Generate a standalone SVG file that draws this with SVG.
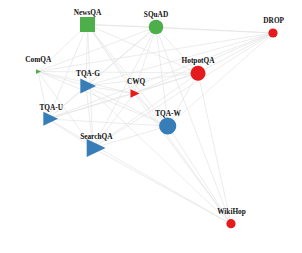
<svg xmlns="http://www.w3.org/2000/svg" width="302" height="253" viewBox="0 0 302 253">
<style>
.e{stroke:#e4e4e4;stroke-width:0.7;fill:none}
.l{font-family:"Liberation Serif","Times New Roman",serif;font-weight:bold;font-size:7.3px;fill:#111;text-anchor:middle}
.g{fill:#4daf4a}.b{fill:#377eb8}.r{fill:#e41a1c}
</style>
<rect width="302" height="253" fill="#fff"/>
<g id="edges">
<path class="e" d="M38,71.5L87.5,24.5M38,71.5L156,27M38,71.5L273,33M38,71.5L198,73M38,71.5L86,86M38,71.5L134,93.5M38,71.5L48,119M38,71.5L93,148M38,71.5L168,126"/>
<path class="e" d="M87.5,24.5L156,27M87.5,24.5L273,33M87.5,24.5L198,73M87.5,24.5L86,86M87.5,24.5L134,93.5M87.5,24.5L48,119M87.5,24.5L93,148M87.5,24.5L168,126M87.5,24.5L231,224"/>
<path class="e" d="M156,27L273,33M156,27L198,73M156,27L86,86M156,27L134,93.5M156,27L48,119M156,27L93,148M156,27L168,126M156,27L231,224"/>
<path class="e" d="M273,33L198,73M273,33L86,86M273,33L134,93.5M273,33L48,119M273,33L93,148M273,33L168,126"/>
<path class="e" d="M198,73L86,86M198,73L134,93.5M198,73L48,119M198,73L93,148M198,73L168,126M198,73L231,224"/>
<path class="e" d="M86,86L134,93.5M86,86L48,119M86,86L93,148M86,86L168,126M86,86L231,224"/>
<path class="e" d="M134,93.5L48,119M134,93.5L93,148M134,93.5L168,126M134,93.5L231,224"/>
<path class="e" d="M48,119L93,148M48,119L168,126M48,119L231,224"/>
<path class="e" d="M93,148L168,126M93,148L231,224"/>
<path class="e" d="M168,126L231,224"/>
</g>
<g id="NewsQA"><rect class="g" x="80" y="17" width="15" height="15"/><text class="l" x="87.5" y="15">NewsQA</text></g>
<g id="SQuAD"><circle class="g" cx="156" cy="27" r="7.3"/><text class="l" x="156" y="16.5">SQuAD</text></g>
<g id="DROP"><circle class="r" cx="273" cy="33" r="4.6"/><text class="l" x="273.7" y="22.5">DROP</text></g>
<g id="HotpotQA"><circle class="r" cx="198" cy="73.3" r="7.5"/><text class="l" x="198" y="63">HotpotQA</text></g>
<g id="ComQA"><polygon class="g" points="36,69.3 41,71.6 36,74"/><text class="l" x="38.3" y="62">ComQA</text></g>
<g id="TQA-G"><polygon class="b" points="80.3,78.5 96,86 80.3,93.5"/><text class="l" x="88" y="75.5">TQA-G</text></g>
<g id="CWQ"><polygon class="r" points="130.5,89.2 139.5,93.5 130.5,97.8"/><text class="l" x="136" y="83.5">CWQ</text></g>
<g id="TQA-U"><polygon class="b" points="43.3,111.7 58,118.7 43.3,125.7"/><text class="l" x="51.2" y="109.5">TQA-U</text></g>
<g id="SearchQA"><polygon class="b" points="86.7,139 105.5,148 86.7,157"/><text class="l" x="96.3" y="138.5">SearchQA</text></g>
<g id="TQA-W"><circle class="b" cx="167.7" cy="126" r="8.6"/><text class="l" x="168" y="116">TQA-W</text></g>
<g id="WikiHop"><circle class="r" cx="231" cy="223.7" r="4.6"/><text class="l" x="231.5" y="214">WikiHop</text></g>
</svg>
